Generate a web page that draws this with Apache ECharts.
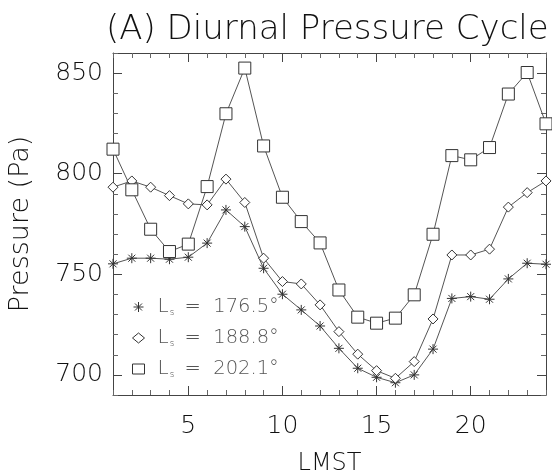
<!DOCTYPE html>
<html>
<head>
<meta charset="utf-8">
<script src="https://cdn.jsdelivr.net/npm/echarts@6/dist/echarts.min.js"></script>
<style>
  html, body { margin: 0; padding: 0; background: #fff; }
  #chart { width: 552px; height: 475px; }
</style>
</head>
<body>
<div id="chart"></div>
<script>
// Local mean solar time (hours)
const hours = [1, 2, 3, 4, 5, 6, 7, 8, 9, 10, 11, 12, 13, 14, 15, 16, 17, 18, 19, 20, 21, 22, 23, 24];

// Solar longitude of each sol (degrees)
const lsValues = ['176.5', '188.8', '202.1'];

// Surface pressure (Pa) for each hour
const pressureLs1765 = [755.2, 758.0, 758.0, 757.5, 758.5, 765.5, 782.0, 773.7, 753.0, 740.1, 732.3, 724.3,
                        713.2, 703.3, 698.8, 696.1, 700.0, 712.8, 738.0, 738.9, 737.6, 747.7, 755.5, 755.0];
const pressureLs1888 = [793.3, 796.4, 793.3, 789.1, 785.0, 784.5, 797.3, 785.7, 758.0, 746.4, 745.2, 734.8,
                        721.5, 710.3, 702.1, 698.3, 706.6, 727.8, 759.6, 759.6, 762.5, 783.4, 790.6, 796.4];
const pressureLs2021 = [812.2, 792.0, 772.4, 761.3, 765.0, 793.6, 829.8, 852.5, 813.8, 788.3, 776.2, 765.6,
                        742.2, 728.7, 725.7, 728.2, 739.8, 769.9, 809.0, 806.9, 813.0, 839.6, 850.3, 824.8];

// Axis tick values
const xMajorTicks = [5, 10, 15, 20];
const yMajorTicks = [700, 750, 800, 850];

const FONT = 'DejaVu Sans';
const INK = '#111';
const THIN = 200;

// Eight-armed asterisk drawn as stroked segments
const asterisk = 'path://M0 5L10 5M5 0L5 10M1.5 1.5L8.5 8.5M1.5 8.5L8.5 1.5';

function pairs(values) {
  return hours.map((h, i) => [h, values[i]]);
}

const seriesDefs = [
  { values: pressureLs1765, symbol: asterisk, size: 10 },
  { values: pressureLs1888, symbol: 'diamond', size: 10 },
  { values: pressureLs2021, symbol: 'rect', size: 12 }
];

const names = lsValues.map(v => 'Ls = ' + v + '°');

const series = seriesDefs.map((d, i) => ({
  name: names[i],
  type: 'line',
  xAxisIndex: 0,
  yAxisIndex: 0,
  data: pairs(d.values),
  symbol: d.symbol,
  symbolSize: d.size,
  showAllSymbol: true,
  animation: false,
  lineStyle: { color: '#555', width: 1 },
  itemStyle: {
    color: d.symbol === asterisk ? 'none' : '#fff',
    borderColor: '#333',
    borderWidth: 1
  },
  emphasis: { disabled: true }
}));

const frameLine = { show: true, lineStyle: { color: '#444', width: 1 } };

function xAxis(position, major, labels) {
  return {
    type: 'value', min: 1, max: 24, position: position,
    interval: 1,
    axisLine: major ? { show: false } : frameLine,
    splitLine: { show: false },
    axisTick: major
      ? { show: true, inside: true, length: 9, customValues: xMajorTicks, lineStyle: { color: '#444' } }
      : { show: true, inside: true, length: 5, lineStyle: { color: '#666' } },
    axisLabel: labels
      ? { show: true, customValues: xMajorTicks, fontFamily: FONT, fontWeight: THIN, fontSize: 25, color: INK, margin: 19 }
      : { show: false },
    name: labels ? 'LMST' : '',
    nameLocation: 'middle',
    nameGap: 57,
    nameTextStyle: { fontFamily: FONT, fontWeight: THIN, fontSize: 24, color: INK }
  };
}

function yAxis(position, major, labels) {
  return {
    type: 'value', min: 690, max: 860, position: position,
    interval: 10,
    axisLine: major ? { show: false } : frameLine,
    splitLine: { show: false },
    axisTick: major
      ? { show: true, inside: true, length: 9, customValues: yMajorTicks, lineStyle: { color: '#444' } }
      : { show: true, inside: true, length: 5, lineStyle: { color: '#666' } },
    axisLabel: labels
      ? { show: true, customValues: yMajorTicks, fontFamily: FONT, fontWeight: THIN, fontSize: 25, color: INK, margin: 10 }
      : { show: false },
    name: labels ? 'Pressure (Pa)' : '',
    nameLocation: 'middle',
    nameGap: 79,
    nameRotate: 90,
    nameTextStyle: { fontFamily: FONT, fontWeight: THIN, fontSize: 27, color: INK }
  };
}

const legendRich = {
  l: { fontFamily: FONT, fontWeight: THIN, fontSize: 20, color: '#555' },
  s: { fontFamily: FONT, fontWeight: THIN, fontSize: 9, color: '#555', verticalAlign: 'bottom', padding: [9, 4, 0, 1] },
  t: { fontFamily: FONT, fontWeight: THIN, fontSize: 19.5, color: '#555' }
};

const chart = echarts.init(document.getElementById('chart'), null, { renderer: 'canvas' });
chart.setOption({
  backgroundColor: '#fff',
  animation: false,
  title: {
    text: '(A) Diurnal Pressure Cycle',
    left: 101, top: 8,
    textStyle: { fontFamily: FONT, fontSize: 34, fontWeight: THIN, color: INK }
  },
  grid: { left: 113, right: 6, top: 53, bottom: 80, containLabel: false, outerBoundsMode: 'none' },
  legend: {
    orient: 'vertical',
    left: 126, top: 292,
    itemWidth: 12, itemHeight: 10,
    itemGap: 11,
    selectedMode: false,
    data: names.map((n, i) => ({
      name: n,
      icon: seriesDefs[i].symbol,
      itemStyle: { color: seriesDefs[i].symbol === asterisk ? 'none' : '#fff', borderColor: '#333', borderWidth: 1 }
    })),
    formatter: function (name) {
      const v = name.replace('Ls = ', '');
      return '{l|L}{s|s}{t| =  ' + v + '}';
    },
    textStyle: { rich: legendRich, padding: [0, 0, 0, 8] }
  },
  xAxis: [
    xAxis('bottom', false, true),
    xAxis('bottom', true, false),
    xAxis('top', false, false),
    xAxis('top', true, false)
  ],
  yAxis: [
    yAxis('left', false, true),
    yAxis('left', true, false),
    yAxis('right', false, false),
    yAxis('right', true, false)
  ],
  series: series
});
</script>
</body>
</html>
